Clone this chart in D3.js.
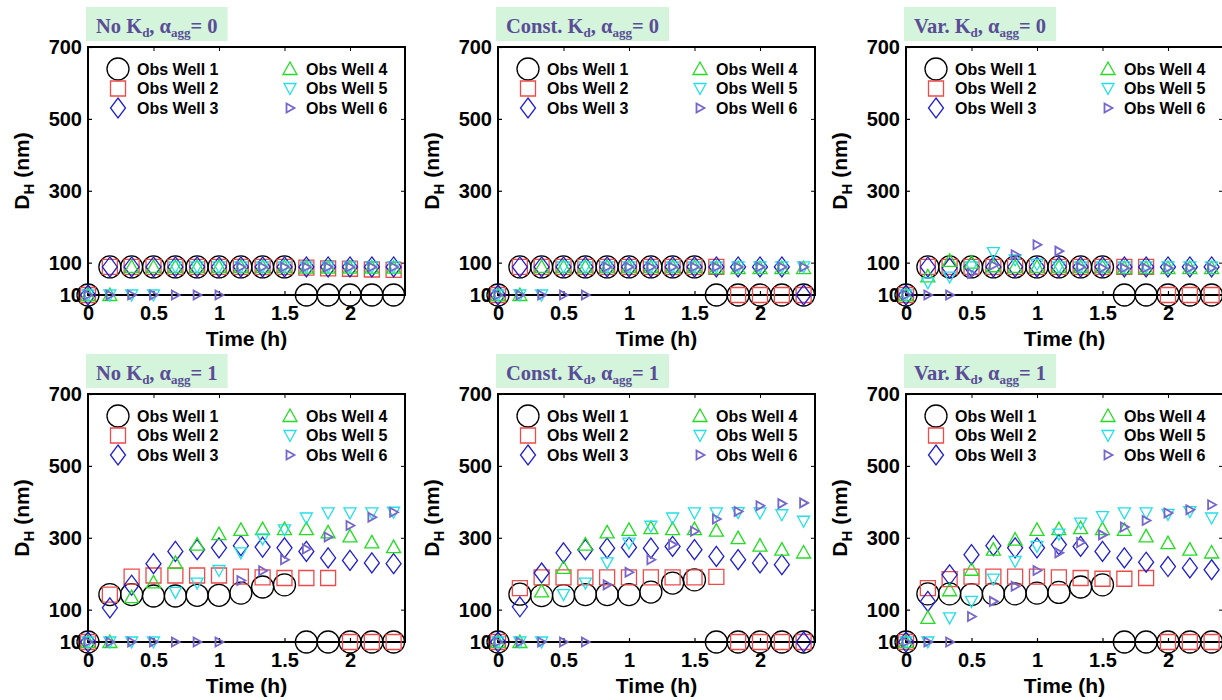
<!DOCTYPE html>
<html>
<head>
<meta charset="utf-8">
<script src="https://cdn.jsdelivr.net/npm/d3@7"></script>
<style>
body { margin: 0; background: #fff; }
text { font-family: "Liberation Sans", Arial, sans-serif; font-weight: bold; }
</style>
</head>
<body>
<svg id="chart" width="1222" height="700"></svg>
<script>
// sampling times (h), every 10 min
var times = [0, 0.167, 0.333, 0.5, 0.667, 0.833, 1, 1.167, 1.333, 1.5, 1.667, 1.833, 2, 2.167, 2.333];

var wellNames = ["Obs Well 1", "Obs Well 2", "Obs Well 3", "Obs Well 4", "Obs Well 5", "Obs Well 6"];
var xTicks = [0, 0.5, 1, 1.5, 2];
var yTicks = [10, 100, 300, 500, 700];

// D_H (nm) per well, one array of six series per panel
var noKd0 = [
  [10, 88, 88, 88, 88, 88, 88, 88, 88, 88, 10, 10, 10, 10, 10],
  [10, 88, 88, 88, 88, 88, 88, 88, 88, 88, 86, 84, 83, 81, 80],
  [10, 88, 88, 88, 88, 88, 88, 88, 88, 88, 88, 88, 88, 88, 88],
  [10, 10, 88, 88, 88, 88, 88, 88, 88, 88, 86, 86, 86, 86, 86],
  [10, 10, 10, 10, 88, 88, 88, 88, 88, 88, 88, 88, 88, 88, 88],
  [10, 10, 10, 10, 10, 10, 10, 88, 88, 88, 88, 88, 88, 88, 88]
];
var constKd0 = [
  [10, 88, 88, 88, 88, 88, 88, 88, 88, 88, 10, 10, 10, 10, 10],
  [10, 88, 88, 88, 88, 88, 88, 88, 88, 88, 88, 10, 10, 10, 10],
  [10, 88, 88, 88, 88, 88, 88, 88, 88, 88, 88, 88, 88, 88, 10],
  [10, 10, 88, 88, 88, 88, 88, 88, 88, 88, 85, 85, 85, 85, 85],
  [10, 10, 10, 88, 88, 88, 88, 88, 88, 88, 88, 88, 88, 88, 88],
  [10, 10, 10, 10, 10, 88, 88, 88, 88, 88, 88, 88, 88, 88, 88]
];
var varKd0 = [
  [10, 88, 88, 88, 88, 88, 88, 88, 88, 88, 10, 10, 10, 10, 10],
  [10, 88, 88, 88, 88, 88, 88, 88, 88, 88, 88, 88, 10, 10, 10],
  [10, 88, 85, 88, 88, 88, 88, 88, 88, 88, 88, 88, 88, 88, 88],
  [10, 62, 105, 100, 90, 88, 88, 88, 88, 88, 85, 85, 85, 85, 85],
  [10, 44, 60, 88, 128, 108, 95, 88, 88, 88, 88, 88, 88, 88, 88],
  [10, 10, 10, 70, 93, 122, 150, 132, 88, 85, 85, 85, 85, 85, 85]
];
var noKd1 = [
  [10, 142, 142, 138, 138, 140, 140, 146, 163, 169, 10, 10, 10, 10, 10],
  [10, 142, 192, 195, 195, 195, 195, 192, 190, 188, 188, 188, 10, 10, 10],
  [10, 105, 168, 228, 262, 267, 272, 278, 274, 272, 262, 244, 237, 230, 228],
  [10, 10, 135, 176, 230, 281, 310, 322, 324, 324, 324, 315, 304, 287, 274],
  [10, 10, 10, 10, 148, 174, 209, 258, 297, 322, 355, 369, 369, 369, 371],
  [10, 10, 10, 10, 10, 10, 10, 181, 208, 239, 269, 302, 334, 357, 371]
];
var constKd1 = [
  [10, 143, 139, 139, 142, 142, 142, 149, 174, 183, 10, 10, 10, 10, 10],
  [10, 160, 190, 190, 190, 190, 190, 190, 190, 190, 191, 10, 10, 10, 10],
  [10, 108, 202, 258, 267, 271, 273, 271, 276, 267, 248, 239, 230, 225, 10],
  [10, 10, 151, 216, 281, 315, 322, 327, 324, 324, 320, 299, 278, 267, 259],
  [10, 10, 10, 142, 174, 230, 285, 332, 355, 369, 369, 370, 369, 364, 346],
  [10, 10, 10, 10, 10, 169, 204, 239, 281, 318, 352, 373, 389, 395, 397]
];
var varKd1 = [
  [10, 144, 144, 142, 144, 144, 146, 148, 163, 169, 10, 10, 10, 10, 10],
  [10, 160, 185, 192, 192, 192, 192, 190, 188, 186, 186, 188, 10, 10, 10],
  [10, 123, 197, 253, 278, 272, 272, 281, 276, 262, 244, 232, 220, 216, 211],
  [10, 77, 154, 211, 267, 295, 322, 324, 327, 324, 322, 304, 285, 267, 259],
  [10, 10, 77, 123, 185, 234, 276, 310, 341, 359, 369, 369, 365, 373, 355],
  [10, 10, 10, 81, 123, 165, 209, 258, 287, 308, 330, 348, 369, 378, 392]
];

var panels = [
  { name: "No", alpha: 0, data: noKd0, col: 0, row: 0 },
  { name: "Const.", alpha: 0, data: constKd0, col: 1, row: 0 },
  { name: "Var.", alpha: 0, data: varKd0, col: 2, row: 0 },
  { name: "No", alpha: 1, data: noKd1, col: 0, row: 1 },
  { name: "Const.", alpha: 1, data: constKd1, col: 1, row: 1 },
  { name: "Var.", alpha: 1, data: varKd1, col: 2, row: 1 }
];

var colors = ["#000000", "#ee4a4a", "#1f1fcf", "#22dd22", "#22e0e6", "#7666cc"];
var shapes = ["circle", "square", "diamond", "triUp", "triDown", "triRight"];

function markerPath(type) {
  switch (type) {
    case "circle": return "M11,0A11,11 0 1,1 -11,0A11,11 0 1,1 11,0Z";
    case "square": return "M-7.5,-7.5H7.5V7.5H-7.5Z";
    case "diamond": return "M0,-10L7.5,0L0,10L-7.5,0Z";
    case "triUp": return "M0,-7L7,5.5H-7Z";
    case "triDown": return "M0,6L-6,-5H6Z";
    case "triRight": return "M4.5,0L-3.5,-4.5V4.5Z";
  }
}

var svg = d3.select("#chart");
var colX = [88, 498, 906];
var rowY = [47, 394];
var pw = 317, ph = 248;

panels.forEach(function (p) {
  var x0 = colX[p.col], y0 = rowY[p.row];
  var g = svg.append("g").attr("transform", "translate(" + x0 + "," + y0 + ")");

  var x = d3.scaleLinear().domain([0, 2.42]).range([0, pw]);
  var y = d3.scaleLinear().domain([10, 700]).range([ph, 0]);

  // title box
  var tg = g.append("g");
  var box = tg.append("rect").attr("fill", "#d4f4dc");
  var tt = tg.append("text")
    .attr("x", 8).attr("y", -14)
    .style("font-family", "'Liberation Serif', 'Times New Roman', serif")
    .style("font-size", "20.5px")
    .attr("fill", "#5a4c96");
  tt.append("tspan").text(p.name + " K");
  tt.append("tspan").attr("dy", 4).style("font-size", "13px").text("d");
  tt.append("tspan").attr("dy", -4).text(", \u03b1");
  tt.append("tspan").attr("dy", 4).style("font-size", "13px").text("agg");
  tt.append("tspan").attr("dy", -4).text("= " + p.alpha);
  var tw = tt.node().getComputedTextLength();
  box.attr("x", -2).attr("y", -40).attr("width", tw + 20).attr("height", 34);

  // axes, ticks pointing inward
  g.append("g").attr("transform", "translate(0," + ph + ")")
    .call(d3.axisBottom(x).tickValues(xTicks).tickFormat(d3.format("~g")).tickSizeInner(-4).tickSizeOuter(0).tickPadding(11))
    .call(function (a) { a.select(".domain").remove(); a.selectAll("text").style("font-size", "20px").attr("fill", "#000"); a.selectAll("line").attr("stroke-width", 1.2); });
  g.append("g")
    .call(d3.axisTop(x).tickValues(xTicks).tickSizeInner(-4).tickSizeOuter(0).tickFormat(""))
    .call(function (a) { a.select(".domain").remove(); });
  g.append("g")
    .call(d3.axisLeft(y).tickValues(yTicks).tickSizeInner(-4).tickSizeOuter(0).tickPadding(6))
    .call(function (a) { a.select(".domain").remove(); a.selectAll("text").style("font-size", "20px").attr("fill", "#000"); a.selectAll("line").attr("stroke-width", 1.2); });
  g.append("g").attr("transform", "translate(" + pw + ",0)")
    .call(d3.axisRight(y).tickValues(yTicks).tickSizeInner(-4).tickSizeOuter(0).tickFormat(""))
    .call(function (a) { a.select(".domain").remove(); });

  g.append("rect").attr("width", pw).attr("height", ph)
    .attr("fill", "none").attr("stroke", "#000").attr("stroke-width", 2);

  // axis labels
  g.append("text").attr("x", pw / 2).attr("y", ph + 51)
    .attr("text-anchor", "middle").style("font-size", "21px").text("Time (h)");
  var yl = g.append("text").attr("transform", "translate(-59," + (ph / 2) + ") rotate(-90)")
    .attr("text-anchor", "middle").style("font-size", "21px");
  yl.append("tspan").text("D");
  yl.append("tspan").attr("dy", 5).style("font-size", "15px").text("H");
  yl.append("tspan").attr("dy", -5).text(" (nm)");

  // series
  p.data.forEach(function (vals, k) {
    g.append("g").selectAll("path")
      .data(vals)
      .enter()
      .append("path")
      .attr("d", markerPath(shapes[k]))
      .attr("transform", function (d, i) { return "translate(" + x(times[i]) + "," + y(d) + ")"; })
      .attr("fill", "none")
      .attr("stroke", colors[k])
      .attr("stroke-width", k == 5 ? 1.8 : 1.3);
  });

  // legend
  var lg = g.append("g");
  wellNames.forEach(function (name, k) {
    var c = Math.floor(k / 3), r = k % 3;
    var mx = c == 0 ? 30 : 202, tx = c == 0 ? 49 : 218;
    var ly = 22 + r * 19.5;
    lg.append("path").attr("d", markerPath(shapes[k]))
      .attr("transform", "translate(" + mx + "," + ly + ")")
      .attr("fill", "none").attr("stroke", colors[k]).attr("stroke-width", k == 5 ? 1.8 : 1.3);
    lg.append("text").attr("x", tx).attr("y", ly).attr("dy", "0.36em")
      .style("font-size", "16px").text(name);
  });
});
</script>
</body>
</html>
